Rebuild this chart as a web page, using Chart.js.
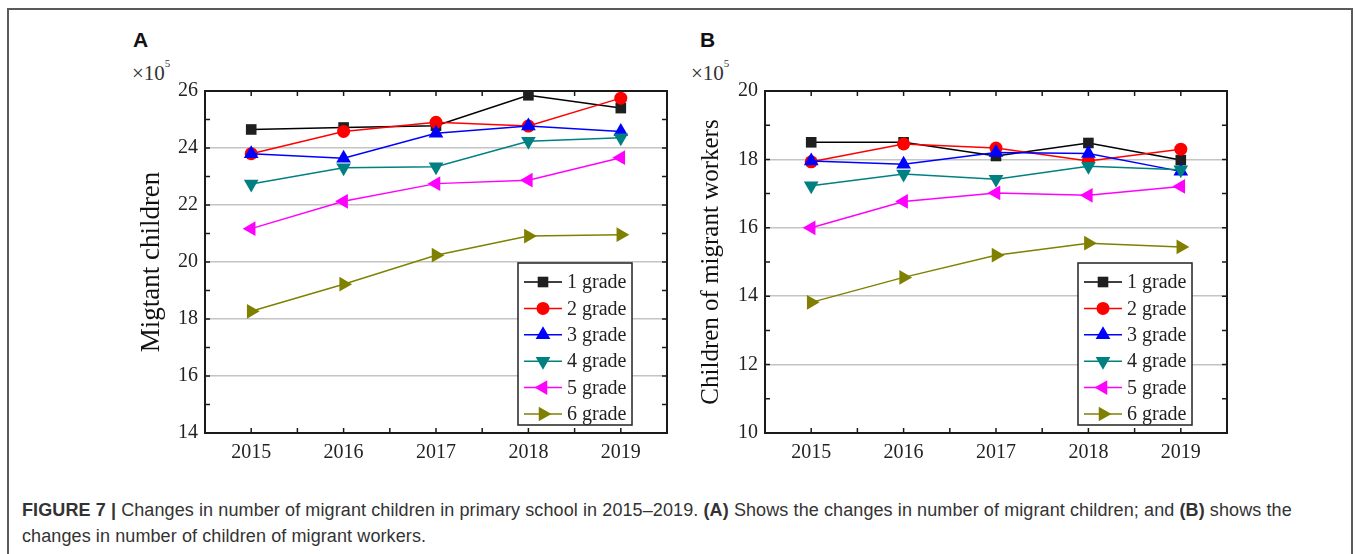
<!DOCTYPE html>
<html>
<head>
<meta charset="utf-8">
<script src="https://cdn.jsdelivr.net/npm/chart.js@4.4.1/dist/chart.umd.min.js"></script>
<style>
  body { margin: 0; width: 1357px; height: 554px; overflow: hidden; background: #fff; position: relative; font-family: 'Liberation Serif', serif; }
  .frame { position: absolute; left: 7px; top: 8px; width: 1346px; height: 600px; border: 2px solid #5a5a5a; box-sizing: border-box; }
  .box { position: absolute; top: 0; width: 700px; height: 475px; }
  .panel { position: absolute; font: bold 21px 'Liberation Sans', Arial, sans-serif; color: #111; line-height: 1; }
  .mult { position: absolute; font-size: 21px; color: #333; line-height: 1; }
  .mult sup { font-size: 11px; position: relative; top: -5px; }
  .cap { position: absolute; left: 22px; top: 497px; font: 18px/26px 'Liberation Sans', Arial, sans-serif; letter-spacing: 0.1px; color: #333; white-space: nowrap; }
</style>
</head>
<body>
<div class="frame"></div>

<div class="panel" style="left:133px;top:29px">A</div>
<div class="panel" style="left:700px;top:29px">B</div>
<div class="mult" style="left:132px;top:63px">×10<sup>5</sup></div>
<div class="mult" style="left:691px;top:63px">×10<sup>5</sup></div>

<div class="box" style="left:0px"><canvas id="chartA"></canvas></div>
<div class="box" style="left:560px"><canvas id="chartB"></canvas></div>

<div class="cap"><b>FIGURE 7 |</b> Changes in number of migrant children in primary school in 2015–2019. <b>(A)</b> Shows the changes in number of migrant children; and <b>(B)</b> shows the<br>changes in number of children of migrant workers.</div>

<script>
const years = [2015, 2016, 2017, 2018, 2019];
const gradeNames = ['1 grade', '2 grade', '3 grade', '4 grade', '5 grade', '6 grade'];
const lineColors = ['#000000', '#ff0000', '#0000ff', '#008080', '#ff00ff', '#808000'];
const markerColors = ['#1f1f1f', '#ff0000', '#0000ff', '#008080', '#ff00ff', '#808000'];
const markerStyles = ['rect', 'circle', 'triangle', 'triangle', 'triangle', 'triangle'];
const markerTurns = [0, 0, 0, 180, 270, 90];
const markerSizes = [7.5, 6.5, 8.5, 8.5, 8.5, 8.5];

// panel A, migrant children (x10^5)
const migrantG1 = [24.65, 24.72, 24.78, 25.85, 25.40];
const migrantG2 = [23.80, 24.58, 24.90, 24.77, 25.75];
const migrantG3 = [23.80, 23.64, 24.52, 24.77, 24.58];
const migrantG4 = [22.74, 23.31, 23.34, 24.24, 24.36];
const migrantG5 = [21.17, 22.13, 22.75, 22.87, 23.66];
const migrantG6 = [18.27, 19.22, 20.24, 20.91, 20.96];

// panel B, children of migrant workers (x10^5)
const workersG1 = [18.50, 18.50, 18.10, 18.48, 17.98];
const workersG2 = [17.93, 18.45, 18.33, 17.95, 18.30];
const workersG3 = [17.95, 17.86, 18.20, 18.17, 17.65];
const workersG4 = [17.23, 17.57, 17.42, 17.80, 17.70];
const workersG5 = [16.00, 16.77, 17.02, 16.95, 17.21];
const workersG6 = [13.82, 14.55, 15.20, 15.55, 15.44];

// inward ticks on all four sides plus the box round the plot
const frameTicks = {
  id: 'frameTicks',
  beforeDatasetsDraw(chart) {
    const { ctx, chartArea: a, scales: { x, y } } = chart;
    ctx.save();
    ctx.strokeStyle = '#1a1a1a';
    ctx.lineWidth = 1.5;
    ctx.beginPath();
    x.ticks.forEach(t => {
      if (t.value <= x.min || t.value >= x.max) return;
      const px = x.getPixelForValue(t.value);
      ctx.moveTo(px, a.bottom); ctx.lineTo(px, a.bottom - 5);
      ctx.moveTo(px, a.top); ctx.lineTo(px, a.top + 5);
    });
    y.ticks.forEach(t => {
      if (t.value <= y.min || t.value >= y.max) return;
      const py = y.getPixelForValue(t.value);
      ctx.moveTo(a.left, py); ctx.lineTo(a.left + 5, py);
      ctx.moveTo(a.right, py); ctx.lineTo(a.right - 5, py);
    });
    ctx.stroke();
    ctx.lineWidth = 2;
    ctx.strokeRect(a.left, a.top, a.right - a.left, a.bottom - a.top);
    ctx.restore();
  }
};

// boxed legend inside the plot, bottom right
const boxLegend = {
  id: 'boxLegend',
  afterDraw(chart) {
    const { ctx, chartArea: a } = chart;
    const w = 114, h = 162;
    const left = a.right - 35 - w, top = a.bottom - 8 - h;
    ctx.save();
    ctx.fillStyle = '#fff';
    ctx.fillRect(left, top, w, h);
    ctx.strokeStyle = '#222';
    ctx.lineWidth = 1.5;
    ctx.strokeRect(left, top, w, h);
    chart.data.datasets.forEach((ds, i) => {
      const cy = top + 19 + i * 26.4;
      ctx.strokeStyle = ds.borderColor;
      ctx.lineWidth = 1.5;
      ctx.beginPath();
      ctx.moveTo(left + 6, cy);
      ctx.lineTo(left + 44, cy);
      ctx.stroke();
      ctx.fillStyle = ds.pointBackgroundColor;
      ctx.strokeStyle = ds.pointBorderColor;
      Chart.helpers.drawPoint(ctx, { pointStyle: ds.pointStyle, rotation: ds.pointRotation, radius: ds.pointRadius, borderWidth: 0 }, left + 25, cy);
      ctx.fillStyle = '#222';
      ctx.font = '20px "Liberation Serif"';
      ctx.textBaseline = 'middle';
      ctx.fillText(ds.label, left + 49, cy + 1);
    });
    ctx.restore();
  }
};

function makeChart(id, series, yMin, yMax, yTitle, titleSize) {
  const datasets = series.map((vals, i) => ({
    label: gradeNames[i],
    data: vals.map((v, j) => ({ x: years[j], y: v })),
    borderColor: lineColors[i],
    borderWidth: 1.5,
    pointStyle: markerStyles[i],
    pointRotation: markerTurns[i],
    pointRadius: markerSizes[i],
    pointBackgroundColor: markerColors[i],
    pointBorderColor: markerColors[i],
    pointBorderWidth: 0,
    order: 6 - i,
    tension: 0
  }));

  new Chart(id, {
    type: 'line',
    data: { datasets: datasets },
    plugins: [frameTicks, boxLegend],
    options: {
      responsive: true,
      maintainAspectRatio: false,
      animation: false,
      layout: { padding: { left: 120, top: 91, right: 33, bottom: 7 } },
      plugins: { legend: { display: false }, tooltip: { enabled: false } },
      scales: {
        x: {
          type: 'linear',
          min: 2014.5,
          max: 2019.5,
          afterFit: s => { s.height = 35; },
          grid: { drawOnChartArea: false, drawTicks: false },
          border: { display: false },
          ticks: {
            stepSize: 0.5,
            autoSkip: false,
            maxRotation: 0,
            padding: 8,
            color: '#222',
            font: { family: 'Liberation Serif', size: 20 },
            callback: v => Number.isInteger(v) ? String(v) : ''
          }
        },
        y: {
          min: yMin,
          max: yMax,
          afterFit: s => { s.width = 85; },
          grid: {
            drawTicks: false,
            lineWidth: 1.5,
            color: c => (c.tick && c.tick.value % 2 === 0 && c.tick.value > yMin && c.tick.value < yMax) ? '#c4c4c4' : 'rgba(0,0,0,0)'
          },
          border: { display: false },
          ticks: {
            stepSize: 1,
            autoSkip: false,
            padding: 7,
            color: '#222',
            font: { family: 'Liberation Serif', size: 20 },
            callback: v => v % 2 === 0 ? String(v) : ''
          },
          title: {
            display: true,
            text: yTitle,
            color: '#111',
            padding: { top: 16, bottom: 0 },
            font: { family: 'Liberation Serif', size: titleSize }
          }
        }
      }
    }
  });
}

makeChart('chartA', [migrantG1, migrantG2, migrantG3, migrantG4, migrantG5, migrantG6], 14, 26, 'Migtant children', 27);
makeChart('chartB', [workersG1, workersG2, workersG3, workersG4, workersG5, workersG6], 10, 20, 'Children of migrant workers', 25);
</script>
</body>
</html>
